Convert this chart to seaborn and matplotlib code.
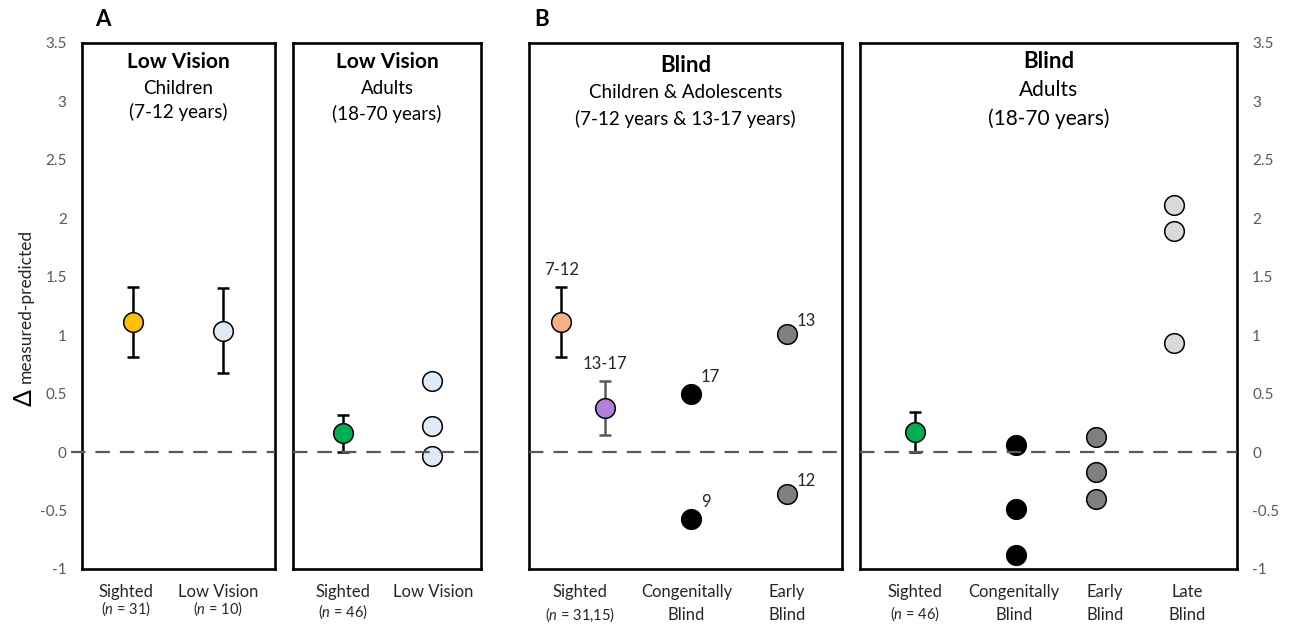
import matplotlib
matplotlib.use("Agg")
import matplotlib.pyplot as plt
import seaborn as sns
from matplotlib.transforms import blended_transform_factory

# ---------------- data ----------------
# A: low vision, children (7-12 years)
lv_child_groups = ["Sighted", "Low Vision"]
lv_child_n = ["31", "10"]
lv_child_mean = [1.11, 1.04]
lv_child_err = [0.30, 0.36]

# A: low vision, adults (18-70 years)
lv_adult_groups = ["Sighted", "Low Vision"]
lv_adult_n = "46"
lv_adult_sighted_mean = 0.16
lv_adult_sighted_err = 0.16
lv_adult_lowvision = [0.61, 0.22, -0.03]

# B: blind, children & adolescents
bl_child_groups = ["Sighted", "Congenitally\nBlind", "Early\nBlind"]
bl_child_n = "31,15"
bl_child_sighted_ages = ["7-12", "13-17"]
bl_child_sighted_mean = [1.11, 0.38]
bl_child_sighted_err = [0.30, 0.23]
bl_child_congenital = [0.50, -0.57]
bl_child_congenital_age = ["17", "9"]
bl_child_early = [1.01, -0.36]
bl_child_early_age = ["13", "12"]

# B: blind, adults (18-70 years)
bl_adult_groups = ["Sighted", "Congenitally\nBlind", "Early\nBlind", "Late\nBlind"]
bl_adult_n = "46"
bl_adult_sighted_mean = 0.17
bl_adult_sighted_err = 0.17
bl_adult_congenital = [0.06, -0.49, -0.88]
bl_adult_early = [0.13, -0.17, -0.40]
bl_adult_late = [2.11, 1.89, 0.93]

y_ticks = [3.5, 3, 2.5, 2, 1.5, 1, 0.5, 0, -0.5, -1]
y_tick_labels = ["3.5", "3", "2.5", "2", "1.5", "1", "0.5", "0", "-0.5", "-1"]

# ---------------- style ----------------
sns.set_theme(style="white")
plt.rcParams["font.family"] = ["Lato", "DejaVu Sans"]
plt.rcParams["mathtext.fontset"] = "custom"
plt.rcParams["mathtext.rm"] = "Lato"
plt.rcParams["mathtext.it"] = "Lato:italic"

C_ORANGE = "#FFC000"
C_LIGHTBLUE = "#DEEBF7"
C_GREEN = "#00B050"
C_PEACH = "#F4B183"
C_PURPLE = "#B27FDA"
C_BLACK = "#000000"
C_GRAY = "#7F7F7F"
C_LIGHTGRAY = "#D9D9D9"
C_DASH = "#595959"
C_TICK = "#595959"
C_TEXT = "#262626"

W, H = 1294, 624
fig = plt.figure(figsize=(W / 100, H / 100), dpi=100)


def rect(x0, x1, y0=43, y1=569):
    return [x0 / W, 1 - y1 / H, (x1 - x0) / W, (y1 - y0) / H]


ax1 = fig.add_axes(rect(82, 275))
ax2 = fig.add_axes(rect(293, 481))
ax3 = fig.add_axes(rect(529, 842))
ax4 = fig.add_axes(rect(860, 1237))

MS = 200  # marker area (pt^2)
LABEL_FS = 12


def setup(ax, ncat, label_x, labels, dash_left=0.0):
    ax.set_xlim(-0.5, ncat - 0.5)
    ax.set_ylim(-1, 3.5)
    for sp in ax.spines.values():
        sp.set_visible(True)
        sp.set_color("black")
        sp.set_linewidth(1.9)
    ax.set_yticks([])
    ax.set_xticks(label_x)
    ax.set_xticklabels(labels, fontsize=LABEL_FS, color=C_TEXT, linespacing=1.55, va="top")
    ax.tick_params(axis="x", length=0, pad=11)
    ax.axhline(0, xmin=-dash_left, xmax=1, color=C_DASH, lw=1.6,
               linestyle=(0, (6.5, 4.5)), zorder=4, clip_on=False)


def dots(ax, x, y, color):
    sns.scatterplot(x=x, y=y, ax=ax, color=color, s=MS, edgecolor="black",
                    linewidth=1.1, zorder=3, legend=False)


def errbar(ax, x, m, e, color="black"):
    ax.errorbar([x], [m], yerr=[e], fmt="none", ecolor=color, elinewidth=1.8,
                capsize=4.5, capthick=1.8, zorder=2)


def n_text(ax, x, txt, y_px=611):
    tr = blended_transform_factory(ax.transData, fig.transFigure)
    ax.text(x, 1 - y_px / H, "($\\it{n}$ = " + txt + ")", transform=tr,
            ha="center", va="center", fontsize=10.5, color=C_TEXT)


def titles(ax, lines, ys, sizes, weights):
    tr = blended_transform_factory(ax.transAxes, fig.transFigure)
    for t, y, s, w in zip(lines, ys, sizes, weights):
        ax.text(0.5, 1 - y / H, t, transform=tr, ha="center", va="center",
                fontsize=s, fontweight=w, color="black")


# ---- panel 1: low vision children ----
p1_x = [0.03, 0.96]
setup(ax1, 2, [-0.04, 0.91], lv_child_groups, dash_left=0.055)
for xi, m, e in zip(p1_x, lv_child_mean, lv_child_err):
    errbar(ax1, xi, m, e)
dots(ax1, [p1_x[0]], [lv_child_mean[0]], C_ORANGE)
dots(ax1, [p1_x[1]], [lv_child_mean[1]], C_LIGHTBLUE)
n_text(ax1, -0.04, lv_child_n[0], 609)
n_text(ax1, 0.91, lv_child_n[1], 609)
ax1.set_yticks(y_ticks)
ax1.set_yticklabels(y_tick_labels, fontsize=11, color=C_TICK)
ax1.tick_params(axis="y", length=0, pad=11)
titles(ax1, ["Low Vision", "Children", "(7-12 years)"], [62, 88, 112],
       [15, 13.5, 13.5], ["bold", "normal", "normal"])

# ---- panel 2: low vision adults ----
p2_x = [0.03, 0.98]
setup(ax2, 2, [0.03, 0.99], lv_adult_groups)
errbar(ax2, p2_x[0], lv_adult_sighted_mean, lv_adult_sighted_err)
dots(ax2, [p2_x[0]], [lv_adult_sighted_mean], C_GREEN)
dots(ax2, [p2_x[1]] * len(lv_adult_lowvision), lv_adult_lowvision, C_LIGHTBLUE)
n_text(ax2, 0.03, lv_adult_n, 612)
titles(ax2, ["Low Vision", "Adults", "(18-70 years)"], [62, 89, 114],
       [15, 13.5, 13.5], ["bold", "normal", "normal"])

# ---- panel 3: blind children & adolescents ----
p3_sighted_x = [-0.19, 0.23]
p3_x = [1.05, 1.97]
setup(ax3, 3, [-0.01, 1.01, 1.97], bl_child_groups)
errbar(ax3, p3_sighted_x[0], bl_child_sighted_mean[0], bl_child_sighted_err[0])
errbar(ax3, p3_sighted_x[1], bl_child_sighted_mean[1], bl_child_sighted_err[1], color=C_DASH)
dots(ax3, [p3_sighted_x[0]], [bl_child_sighted_mean[0]], C_PEACH)
dots(ax3, [p3_sighted_x[1]], [bl_child_sighted_mean[1]], C_PURPLE)
for xi, m, e, lab in zip(p3_sighted_x, bl_child_sighted_mean, bl_child_sighted_err,
                         bl_child_sighted_ages):
    ax3.annotate(lab, xy=(xi, m + e), xytext=(0, 17), textcoords="offset pixels",
                 ha="center", va="center", fontsize=LABEL_FS, color=C_TEXT)
dots(ax3, [p3_x[0]] * len(bl_child_congenital), bl_child_congenital, C_BLACK)
dots(ax3, [p3_x[1]] * len(bl_child_early), bl_child_early, C_GRAY)
for y, lab in zip(bl_child_congenital, bl_child_congenital_age):
    ax3.annotate(lab, xy=(p3_x[0], y), xytext=(10, 17), textcoords="offset pixels",
                 ha="left", va="center", fontsize=LABEL_FS, color=C_TEXT)
for y, lab in zip(bl_child_early, bl_child_early_age):
    ax3.annotate(lab, xy=(p3_x[1], y), xytext=(10, 13), textcoords="offset pixels",
                 ha="left", va="center", fontsize=LABEL_FS, color=C_TEXT)
n_text(ax3, -0.01, bl_child_n, 615)
titles(ax3, ["Blind", "Children & Adolescents", "(7-12 years & 13-17 years)"],
       [65, 93, 119], [16, 13.5, 13.5], ["bold", "normal", "normal"])

# ---- panel 4: blind adults ----
p4_x = [0.08, 1.16, 2.0, 2.83]
setup(ax4, 4, [0.08, 1.13, 2.1, 2.97], bl_adult_groups)
errbar(ax4, p4_x[0], bl_adult_sighted_mean, bl_adult_sighted_err)
dots(ax4, [p4_x[0]], [bl_adult_sighted_mean], C_GREEN)
dots(ax4, [p4_x[1]] * len(bl_adult_congenital), bl_adult_congenital, C_BLACK)
dots(ax4, [p4_x[2]] * len(bl_adult_early), bl_adult_early, C_GRAY)
dots(ax4, [p4_x[3]] * len(bl_adult_late), bl_adult_late, C_LIGHTGRAY)
n_text(ax4, 0.08, bl_adult_n, 614)
ax4.yaxis.tick_right()
ax4.set_yticks(y_ticks)
ax4.set_yticklabels(y_tick_labels, fontsize=11, color=C_TICK)
ax4.tick_params(axis="y", length=0, pad=11)
titles(ax4, ["Blind", "Adults", "(18-70 years)"], [62, 90, 119],
       [16, 15, 15], ["bold", "normal", "normal"])

# ---- shared labels ----
fig.text(24 / W, 1 - 397 / H, "Δ", rotation=90, ha="center", va="center",
         fontsize=18, color="black")
fig.text(26 / W, 1 - 383 / H, "measured-predicted", rotation=90, ha="center",
         va="bottom", fontsize=12.5, color=C_TEXT)
fig.text(103 / W, 1 - 20 / H, "A", ha="center", va="center", fontsize=16,
         fontweight="bold", color="black")
fig.text(542 / W, 1 - 20 / H, "B", ha="center", va="center", fontsize=16,
         fontweight="bold", color="black")

fig.savefig("out.png", dpi=100, facecolor="white")
